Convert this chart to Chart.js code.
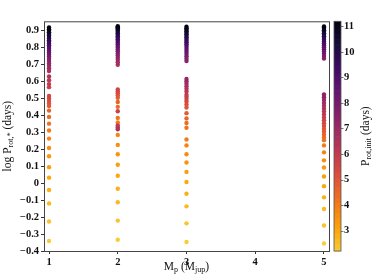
<!DOCTYPE html>
<html>
<head>
<meta charset="utf-8">
<script src="https://cdn.jsdelivr.net/npm/chart.js@4.4.0/dist/chart.umd.min.js"></script>
<style>
  html, body { margin: 0; padding: 0; background: #fff; }
</style>
</head>
<body>
<canvas id="c" width="374" height="279"></canvas>
<script>
// planet masses (M_jup) -- one column of points each
const masses = [1, 2, 3, 5];

// initial stellar rotation periods (days), shared by every column
const pInit = [2.2, 2.4, 2.6, 2.8, 3.0, 3.2, 3.4, 3.6, 3.8, 4.0, 4.2, 4.4, 4.6, 4.8, 5.0, 5.2,
  5.4, 5.6, 5.8, 6.0, 6.2, 6.4, 6.6, 6.8, 7.0, 7.2, 7.4, 7.6, 7.8, 8.0, 8.2, 8.4, 8.6, 8.8,
  9.0, 9.2, 9.4, 9.6, 9.8, 10.0, 10.2, 10.4, 10.6, 10.8, 11.0, 11.2];

// log P_rot,*, in pInit order
const logPm1 = [-0.341, -0.226, -0.120, -0.041, 0.032, 0.094, 0.158, 0.207, 0.262, 0.310, 0.350,
  0.390, 0.427, 0.454, 0.469, 0.483, 0.498, 0.513, 0.565, 0.583, 0.606, 0.628,
  0.660, 0.676, 0.691, 0.705, 0.719, 0.732, 0.745, 0.757, 0.769, 0.780, 0.791, 0.802,
  0.812, 0.822, 0.832, 0.842, 0.851, 0.861, 0.870, 0.879, 0.888, 0.897, 0.906, 0.917];
const logPm2 = [-0.334, -0.221, -0.113, -0.033, 0.043, 0.108, 0.170, 0.225, 0.284,
  0.357, 0.384, 0.449, 0.478, 0.503, 0.518, 0.529, 0.540, 0.551,
  0.423, 0.339, 0.328, 0.317,
  0.697, 0.712, 0.726, 0.739, 0.752, 0.764, 0.776, 0.787, 0.798, 0.808, 0.818, 0.828,
  0.838, 0.847, 0.856, 0.865, 0.874, 0.882, 0.890, 0.898, 0.905, 0.912, 0.918, 0.924];
const logPm3 = [-0.347, -0.237, -0.137, -0.063, 0.006, 0.066, 0.121, 0.170, 0.222, 0.257,
  0.326, 0.354, 0.381, 0.412, 0.445, 0.463, 0.481, 0.496, 0.508, 0.521,
  0.540, 0.555, 0.570, 0.585, 0.600, 0.613,
  0.719, 0.733, 0.747, 0.760, 0.772, 0.784, 0.796, 0.807, 0.818, 0.829, 0.839, 0.849,
  0.858, 0.867, 0.876, 0.885, 0.894, 0.903, 0.912, 0.921];
const logPm5 = [-0.356, -0.250, -0.153, -0.084, -0.018, 0.039, 0.092, 0.134, 0.181, 0.222, 0.253,
  0.268, 0.285, 0.302, 0.319, 0.336, 0.353, 0.370, 0.387, 0.404, 0.421, 0.438, 0.455,
  0.472, 0.489, 0.506, 0.522,
  0.734, 0.748, 0.762, 0.775, 0.788, 0.800, 0.812, 0.823, 0.834, 0.845, 0.855, 0.865,
  0.874, 0.883, 0.892, 0.900, 0.908, 0.916, 0.923];

const xTicks = [1, 2, 3, 4, 5];
const yTicks = [-0.4, -0.3, -0.2, -0.1, 0, 0.1, 0.2, 0.3, 0.4, 0.5, 0.6, 0.7, 0.8, 0.9];
const cbTicks = [3, 4, 5, 6, 7, 8, 9, 10, 11];

// reversed inferno, a bit trimmed at the yellow end
const inferno = ['#000004', '#160b39', '#420a68', '#6a176e', '#932667', '#bc3754',
  '#dd513a', '#f37819', '#fca50a', '#f6d746', '#fcffa4'];
function hex(h) { return [1, 3, 5].map(i => parseInt(h.slice(i, i + 2), 16)); }
function cmap(p) {
  let t = 0.02 + (11.2 - p) / 9 * 0.86;
  t = Math.max(0, Math.min(1, t)) * 10;
  const i = Math.min(9, Math.floor(t)), f = t - i;
  const a = hex(inferno[i]), b = hex(inferno[i + 1]);
  const c = a.map((v, k) => Math.round(v + (b[k] - v) * f));
  return `rgb(${c[0]},${c[1]},${c[2]})`;
}

const serif = "'Liberation Serif', 'DejaVu Serif', serif";
const colors = pInit.map(cmap);
const columns = [logPm1, logPm2, logPm3, logPm5];

function drawParts(ctx, parts, x, y, size) {
  // parts: [text, isSub]
  let w = 0;
  parts.forEach(([t, sub]) => {
    ctx.font = `${sub ? size * 0.7 : size}px ${serif}`;
    w += ctx.measureText(t).width;
  });
  let cx = x - w / 2;
  parts.forEach(([t, sub]) => {
    ctx.font = `${sub ? size * 0.7 : size}px ${serif}`;
    ctx.fillText(t, cx, sub ? y + size * 0.22 : y);
    cx += ctx.measureText(t).width;
  });
}

const extras = {
  id: 'extras',
  afterDraw(chart) {
    const { ctx, chartArea: a, scales } = chart;
    ctx.save();
    ctx.strokeStyle = '#444';
    ctx.lineWidth = 1;
    ctx.strokeRect(a.left + 0.5, a.top + 0.5, a.right - a.left, a.bottom - a.top);

    // colour bar
    const cb = scales.cb;
    const x0 = 334, w = 7;
    pInit.forEach((v, i) => {
      const top = cb.getPixelForValue(Math.min(v + 0.1, cb.max));
      const bot = cb.getPixelForValue(Math.max(v - 0.1, cb.min));
      ctx.fillStyle = colors[i];
      ctx.fillRect(x0, top, w, bot - top + 0.6);
    });
    ctx.strokeStyle = '#555';
    ctx.lineWidth = 0.8;
    ctx.strokeRect(x0, cb.top, w, cb.bottom - cb.top);
    ctx.beginPath();
    cbTicks.forEach(v => {
      const y = Math.round(cb.getPixelForValue(v)) + 0.5;
      ctx.moveTo(x0 + w, y); ctx.lineTo(x0 + w + 2.5, y);
    });
    ctx.stroke();

    ctx.fillStyle = '#111';
    ctx.textBaseline = 'middle';
    ctx.textAlign = 'left';
    // x title
    drawParts(ctx, [['M', 0], ['p', 1], [' (M', 0], ['jup', 1], [')', 0]],
      (a.left + a.right) / 2, 267, 11.5);
    // y title
    ctx.save();
    ctx.translate(8, (a.top + a.bottom) / 2);
    ctx.rotate(-Math.PI / 2);
    drawParts(ctx, [['log P', 0], ['rot,*', 1], [' (days)', 0]], 0, 0, 11.5);
    ctx.restore();
    // colour bar title
    ctx.save();
    ctx.translate(366, (a.top + a.bottom) / 2);
    ctx.rotate(-Math.PI / 2);
    drawParts(ctx, [['P', 0], ['rot,init', 1], [' (days)', 0]], 0, 0, 11.5);
    ctx.restore();
    ctx.restore();
  }
};

const tickFont = { family: serif, size: 10.5, weight: 'bold' };

new Chart(document.getElementById('c'), {
  type: 'scatter',
  data: {
    datasets: masses.map((m, j) => ({
      data: columns[j].map((v, i) => ({ x: m, y: v })),
      backgroundColor: colors,
      borderWidth: 0,
      pointRadius: 2.2,
      pointHoverRadius: 2.2
    }))
  },
  options: {
    responsive: false,
    animation: false,
    layout: { padding: { top: 4 } },
    plugins: { legend: { display: false }, tooltip: { enabled: false } },
    scales: {
      x: {
        type: 'linear', min: 0.927, max: 5.073,
        afterBuildTicks: s => { s.ticks = xTicks.map(v => ({ value: v })); },
        afterFit: s => { s.height = 28; },
        grid: { drawOnChartArea: false, drawTicks: true, tickLength: 3, color: '#333' },
        border: { display: false },
        ticks: { font: tickFont, color: '#111', padding: 2, maxRotation: 0 }
      },
      y: {
        type: 'linear', min: -0.4, max: 0.953,
        afterBuildTicks: s => { s.ticks = yTicks.map(v => ({ value: v })); },
        afterFit: s => { s.width = 44; },
        grid: { drawOnChartArea: false, drawTicks: true, tickLength: 3, color: '#333' },
        border: { display: false },
        ticks: {
          font: tickFont, color: '#111', padding: 2,
          callback: v => (Math.abs(v) < 1e-9 ? '0' : (v < 0 ? '\u2212' : '') + Math.abs(v).toFixed(1))
        }
      },
      cb: {
        type: 'linear', position: 'right', min: 2.2, max: 11.2,
        afterBuildTicks: s => { s.ticks = cbTicks.map(v => ({ value: v })); },
        afterFit: s => { s.width = 45; },
        grid: { display: false, drawTicks: false },
        border: { display: false },
        ticks: { font: tickFont, color: '#111', padding: 15 }
      }
    }
  },
  plugins: [extras]
});
</script>
</body>
</html>
